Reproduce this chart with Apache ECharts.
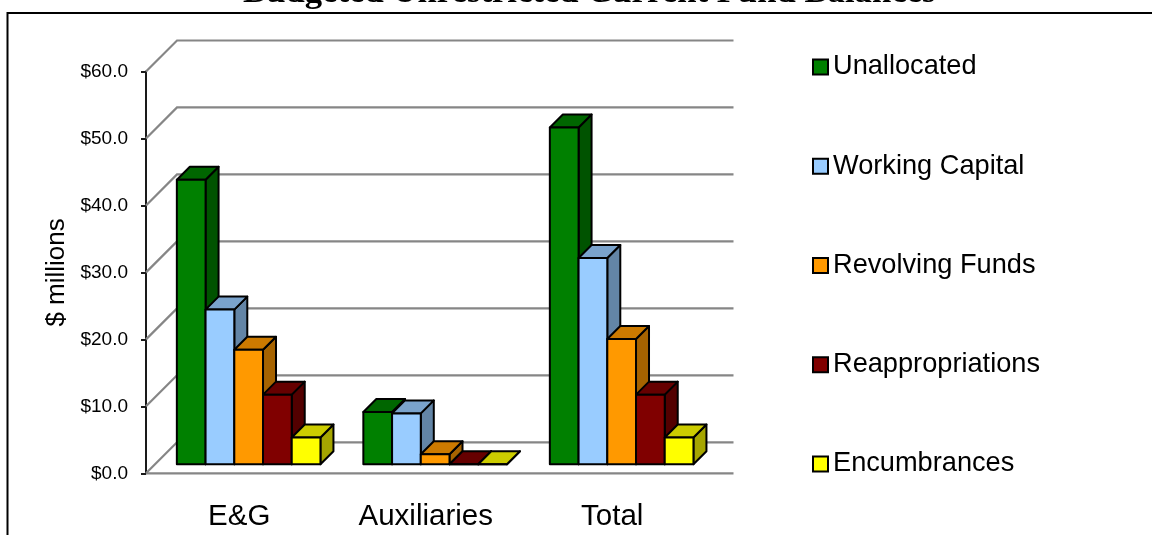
<!DOCTYPE html>
<html>
<head>
<meta charset="utf-8">
<style>html,body{margin:0;padding:0;background:#fff;overflow:hidden}#chart{width:1152px;height:535px}</style>
<script src="https://cdn.jsdelivr.net/npm/echarts@6/dist/echarts.min.js"></script>
</head>
<body>
<div id="chart"></div>
<script>
// Budgeted unrestricted current fund balances, $ millions
const categories = ['E&G', 'Auxiliaries', 'Total'];
const yTicks = [0, 10, 20, 30, 40, 50, 60];
const unallocated = [42.5, 7.8, 50.3];
const workingCapital = [23.1, 7.6, 30.8];
const revolvingFunds = [17.1, 1.5, 18.7];
const reappropriations = [10.4, 0, 10.4];
const encumbrances = [4.0, 0, 4.0];

const seriesDefs = [
  { name: 'Unallocated', values: unallocated, front: '#008000', top: '#006600', side: '#005300' },
  { name: 'Working Capital', values: workingCapital, front: '#99CCFF', top: '#7AA3CC', side: '#6385A6' },
  { name: 'Revolving Funds', values: revolvingFunds, front: '#FF9900', top: '#CC7A00', side: '#A66300' },
  { name: 'Reappropriations', values: reappropriations, front: '#800000', top: '#660000', side: '#530000' },
  { name: 'Encumbrances', values: encumbrances, front: '#FFFF00', top: '#CCCC00', side: '#A6A600' }
];

// Oblique projection: wall sits 31px behind the axis plane, bars 9–22px behind it
const wallDepth = 31;
const wallOverhang = 28;
const barInsetX = 9.4;
const barInsetY = 9;
const barDepth = 13;
const clusterShare = 0.77;

function renderGridLine(params, api) {
  const p = api.coord([0, api.value(0)]);
  const left = params.coordSys.x;
  const right = left + params.coordSys.width + wallOverhang;
  const y = p[1];
  const style = { stroke: '#868686', lineWidth: 2.2, fill: null };
  const children = [{
    type: 'polyline',
    shape: { points: [[left, y], [left + wallDepth, y - wallDepth], [right, y - wallDepth]] },
    style
  }];
  if (api.value(0) === 0) {
    children.push({ type: 'line', shape: { x1: left, y1: y, x2: right, y2: y }, style });
  }
  return { type: 'group', children };
}

function barRenderer(def, order) {
  return function (params, api) {
    const idx = api.value(0);
    const val = api.value(1);
    const catW = api.size([1, 0])[0];
    const w = catW * clusterShare / seriesDefs.length;
    const c = api.coord([idx, val]);
    const b = api.coord([idx, 0]);
    const x0 = c[0] + barInsetX - (w * seriesDefs.length) / 2 + order * w;
    const x1 = x0 + w;
    const yt = c[1] - barInsetY;
    const yb = b[1] - barInsetY;
    const d = barDepth;
    const edge = { stroke: '#000', lineWidth: 2, lineJoin: 'round' };
    return {
      type: 'group',
      children: [
        { type: 'polygon', shape: { points: [[x1, yt], [x1 + d, yt - d], [x1 + d, yb - d], [x1, yb]] },
          style: Object.assign({ fill: def.side }, edge) },
        { type: 'polygon', shape: { points: [[x0, yt], [x0 + d, yt - d], [x1 + d, yt - d], [x1, yt]] },
          style: Object.assign({ fill: def.top }, edge) },
        { type: 'rect', shape: { x: x0, y: yt, width: w, height: yb - yt },
          style: Object.assign({ fill: def.front }, edge) }
      ]
    };
  };
}

const chart = echarts.init(document.getElementById('chart'), null, { renderer: 'canvas' });
chart.setOption({
  animation: false,
  backgroundColor: '#fff',
  title: {
    text: 'Budgeted Unrestricted Current Fund Balances',
    left: 238,
    top: -29,
    textStyle: { fontFamily: 'Liberation Serif', fontWeight: 'bold', fontSize: 34.7, color: '#000' }
  },
  graphic: [{
    type: 'rect',
    shape: { x: 7.5, y: 13, width: 1300, height: 700 },
    style: { fill: null, stroke: '#000', lineWidth: 2 },
    z: -1
  }],
  legend: {
    orient: 'vertical',
    left: 807,
    top: 48.5,
    itemWidth: 15,
    itemHeight: 15,
    itemGap: 72.25,
    icon: 'rect',
    data: seriesDefs.map(s => s.name),
    itemStyle: { borderColor: '#000', borderWidth: 2 },
    textStyle: { fontFamily: 'Liberation Sans', fontSize: 27.2, color: '#000' }
  },
  grid: { left: 146, top: 71.5, width: 559.5, height: 401.8 },
  xAxis: {
    type: 'category',
    data: categories,
    axisLine: { show: false },
    axisTick: { show: false },
    axisLabel: { margin: 29, fontFamily: 'Liberation Sans', fontSize: 29.5, color: '#000' }
  },
  yAxis: {
    type: 'value',
    min: 0,
    max: 60,
    interval: 10,
    name: '$ millions',
    nameLocation: 'middle',
    nameGap: 76,
    nameRotate: 90,
    nameTextStyle: { fontFamily: 'Liberation Sans', fontSize: 26, color: '#000' },
    axisLine: { show: true, lineStyle: { color: '#1a1a1a', width: 2 } },
    axisTick: { show: true, length: 5, lineStyle: { color: '#1a1a1a', width: 2 } },
    splitLine: { show: false },
    axisLabel: {
      margin: 18,
      fontFamily: 'Liberation Sans',
      fontSize: 19,
      color: '#000',
      formatter: v => '$' + v.toFixed(1)
    }
  },
  series: [{
    type: 'custom',
    name: 'wall',
    silent: true,
    clip: false,
    z: 1,
    renderItem: renderGridLine,
    encode: { y: 0 },
    data: yTicks.map(v => [v])
  }].concat(seriesDefs.map((def, order) => ({
    type: 'custom',
    name: def.name,
    clip: false,
    z: 2 + order,
    itemStyle: { color: def.front },
    renderItem: barRenderer(def, order),
    encode: { x: 0, y: 1 },
    data: def.values.map((v, i) => [i, v])
  })))
});
</script>
</body>
</html>
